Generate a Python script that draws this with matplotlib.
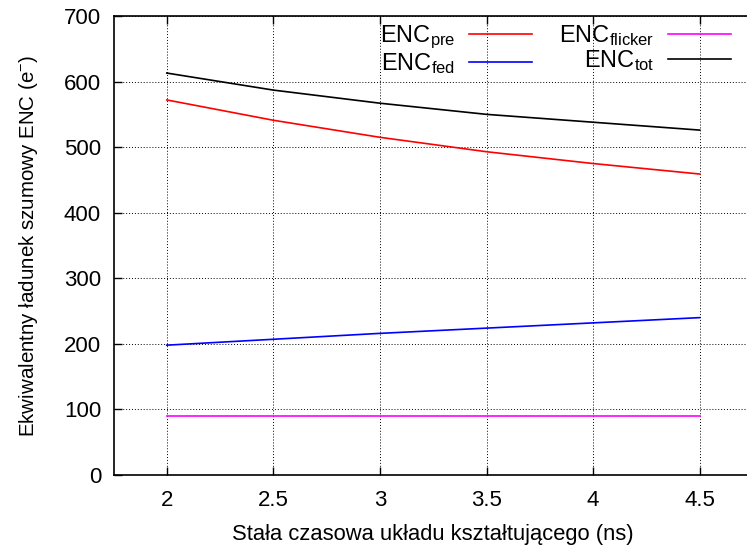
import matplotlib
matplotlib.use("Agg")
import matplotlib.pyplot as plt

plt.rcParams['font.family'] = ['Liberation Sans', 'DejaVu Sans']
plt.rcParams['mathtext.fontset'] = 'custom'
plt.rcParams['mathtext.rm'] = 'Liberation Sans'
plt.rcParams['mathtext.it'] = 'Liberation Sans'
plt.rcParams['mathtext.default'] = 'rm'

tau = [2.0, 2.5, 3.0, 3.5, 4.0, 4.5]
enc_pre = [572, 541, 515, 493, 475, 459]
enc_fed = [198, 207, 216, 224, 232, 240]
enc_flicker = [90, 90, 90, 90, 90, 90]
enc_tot = [613, 587, 567, 550, 538, 526]

xticks = [2, 2.5, 3, 3.5, 4, 4.5]
xticklabels = ['2', '2.5', '3', '3.5', '4', '4.5']
yticks = [0, 100, 200, 300, 400, 500, 600, 700]

fig = plt.figure(figsize=(7.47, 5.45), dpi=100)
L = 113.5 / 747
B = (545 - 475) / 545
W = (753 - 113.5) / 747
H = (475 - 16) / 545
ax = fig.add_axes([L, B, W, H])

lw = 1.2
ax.plot(tau, enc_pre, color='#ff0000', lw=lw, label=r'ENC$_{pre}$')
ax.plot(tau, enc_fed, color='#0000ff', lw=lw, label=r'ENC$_{fed}$')
ax.plot(tau, enc_flicker, color='#ff00ff', lw=lw, label=r'ENC$_{flicker}$')
ax.plot(tau, enc_tot, color='#000000', lw=lw, label=r'ENC$_{tot}$')

ax.set_xlim(1.75, 4.75)
ax.set_ylim(0, 700)
ax.set_xticks(xticks)
ax.set_xticklabels(xticklabels)
ax.set_yticks(yticks)
ax.tick_params(direction='in', length=6, width=1, labelsize=16, top=True, right=False)
ax.tick_params(axis='x', pad=11)
ax.tick_params(axis='y', pad=9)
for s in ax.spines.values():
    s.set_linewidth(1.2)
ax.spines['right'].set_visible(False)
ax.grid(True, color='black', linestyle=(0, (1, 2)), linewidth=0.7)

ax.set_xlabel('Stała czasowa układu kształtującego (ns)', fontsize=15.8, labelpad=9)
ax.set_ylabel(r'Ekwiwalentny ładunek szumowy ENC (e$^{-}$)', fontsize=14.8, labelpad=17)

leg = ax.legend(ncol=2, markerfirst=False, frameon=False, fontsize=17,
                loc='upper right', bbox_to_anchor=(0.966, 0.985),
                borderaxespad=0.0, borderpad=0.0, handlelength=2.7,
                handletextpad=0.55, columnspacing=1.15, labelspacing=0.0)

fig.savefig('out.png', dpi=100)
